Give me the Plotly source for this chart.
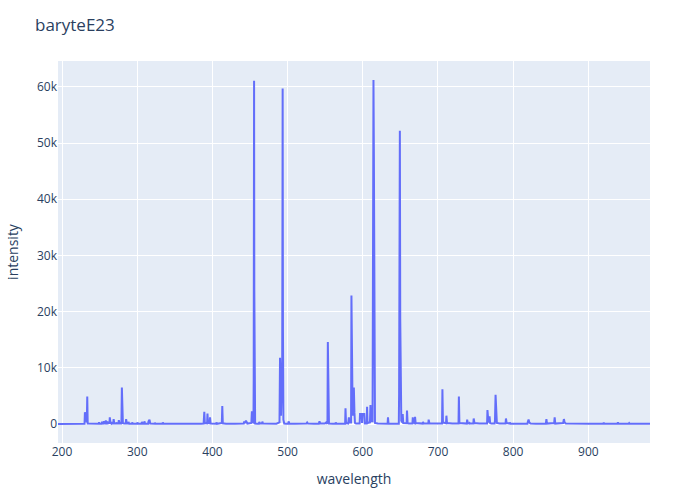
import plotly.graph_objects as go

wavelength = [
    194.6, 215.0, 229.9, 230.4, 230.9, 232.9, 233.5, 234.1, 240.0, 248.5,
    249.2, 250.0, 252.7, 253.2, 254.0, 255.1, 255.6, 256.5, 257.7, 258.2,
    259.0, 260.5, 261.0, 262.0, 263.0, 263.5, 264.4, 265.5, 266.0, 267.0,
    268.1, 268.6, 269.5, 271.7, 272.2, 273.2, 275.0, 275.5, 276.4, 278.6,
    279.0, 279.55, 280.27, 280.9, 282.5, 284.7, 285.2, 286.2, 287.8, 288.3,
    289.3, 292.8, 293.3, 294.3, 299.7, 300.2, 301.2, 305.7, 306.2, 307.2,
    309.0, 309.5, 310.5, 314.5, 315.0, 316.3, 317.3, 322.9, 323.4, 324.4,
    333.5, 334.0, 335.0, 340.0, 350.0, 370.0, 385.0, 388.3, 389.2, 389.9,
    392.9, 393.4, 394.1, 396.3, 396.8, 397.6, 401.0, 404.8, 405.3, 406.2,
    412.5, 413.1, 413.8, 418.0, 430.0, 440.0, 441.7, 442.2, 443.2, 444.6,
    445.6, 446.5, 451.8, 452.5, 453.3, 454.6, 454.9, 455.2, 455.4, 455.7,
    456.1, 456.8, 460.0, 461.8, 462.3, 463.2, 465.9, 466.4, 467.2, 472.0,
    485.0, 489.2, 489.9, 490.5, 491.2, 492.8, 493.2, 493.4, 493.8, 494.4,
    495.5, 498.0, 500.8, 501.3, 502.3, 510.0, 525.0, 526.0, 527.0, 535.0,
    541.5, 542.4, 543.4, 549.5, 551.3, 552.1, 553.0, 553.5, 554.2, 555.0,
    560.0, 563.5, 564.0, 565.0, 575.0, 576.5, 577.0, 577.7, 580.5, 581.5,
    582.4, 584.4, 584.9, 585.6, 586.5, 587.3, 588.1, 588.9, 589.6, 591.0,
    595.8, 596.3, 598.5, 599.0, 599.5, 602.0, 602.6, 605.2, 605.7, 606.3,
    609.5, 610.2, 611.0, 613.0, 613.4, 614.2, 614.7, 615.3, 616.2, 620.0,
    627.0, 633.0, 633.5, 634.2, 640.0, 647.9, 648.3, 648.6, 649.3, 649.8,
    650.3, 651.2, 652.7, 653.1, 653.8, 655.0, 658.3, 658.8, 659.6, 661.0,
    666.0, 666.5, 667.2, 669.0, 669.5, 670.3, 675.0, 679.6, 680.1, 681.0,
    687.1, 687.6, 688.6, 695.0, 700.0, 705.4, 705.9, 706.6, 710.7, 711.2,
    712.0, 717.5, 718.0, 719.0, 727.3, 727.8, 728.5, 733.0, 738.3, 738.8,
    739.7, 741.5, 742.0, 742.8, 747.0, 747.5, 748.5, 755.0, 765.3, 765.8,
    766.8, 768.1, 768.6, 769.4, 771.0, 775.3, 775.8, 776.6, 777.4, 778.3,
    782.0, 789.9, 790.4, 791.3, 795.0, 795.5, 796.3, 800.0, 815.0, 819.0,
    819.5, 820.5, 821.5, 823.0, 830.0, 843.5, 844.2, 845.0, 854.5, 855.2,
    856.0, 866.5, 867.5, 868.4, 870.0, 880.0, 900.0, 919.8, 920.5, 921.3,
    938.5, 939.3, 940.2, 953.5, 954.3, 955.2, 970.0, 982.0,
]

intensity = [
    40, 50, 60, 2100, 1900, 300, 4900, 100, 60, 60,
    300, 80, 80, 450, 120, 100, 550, 150, 100, 650,
    100, 100, 300, 100, 100, 1200, 200, 100, 400, 100,
    100, 900, 100, 100, 300, 100, 100, 700, 100, 100,
    600, 6500, 3400, 200, 100, 100, 900, 100, 100, 400,
    80, 80, 300, 80, 60, 300, 60, 60, 400, 80,
    80, 500, 80, 80, 500, 800, 100, 60, 250, 60,
    60, 300, 60, 50, 50, 40, 60, 100, 2200, 200,
    150, 1900, 200, 150, 1200, 100, 60, 60, 300, 60,
    200, 3200, 150, 60, 50, 100, 100, 500, 200, 600,
    300, 100, 200, 2300, 400, 300, 8000, 23000, 61100, 24000,
    1500, 100, 80, 80, 400, 100, 100, 450, 100, 80,
    80, 300, 11800, 9000, 1500, 11000, 40000, 59700, 17000, 800,
    100, 80, 80, 500, 100, 80, 100, 300, 100, 80,
    80, 500, 100, 100, 300, 150, 200, 14600, 1200, 100,
    80, 80, 300, 80, 80, 80, 2800, 200, 100, 1200,
    300, 300, 22900, 2000, 1500, 4000, 6500, 2000, 200, 100,
    100, 1800, 1800, 200, 1800, 1800, 100, 100, 3100, 200,
    300, 3400, 500, 500, 54000, 61200, 49000, 3000, 200, 100,
    80, 80, 1200, 100, 80, 80, 5500, 29000, 52200, 18700,
    7800, 600, 300, 1800, 200, 150, 150, 2400, 200, 100,
    100, 1200, 300, 150, 1300, 200, 100, 100, 400, 100,
    100, 800, 100, 80, 80, 100, 6200, 300, 150, 1500,
    200, 100, 200, 100, 100, 4900, 200, 100, 100, 800,
    200, 100, 200, 100, 100, 1000, 200, 100, 100, 2500,
    800, 300, 1400, 200, 100, 100, 600, 5200, 1500, 200,
    100, 100, 1000, 200, 100, 300, 100, 80, 80, 80,
    400, 800, 300, 100, 80, 100, 900, 100, 200, 1200,
    100, 200, 900, 300, 100, 60, 60, 60, 250, 60,
    80, 300, 60, 60, 200, 60, 60, 50,
]

assert len(wavelength) == len(intensity)

fig = go.Figure(
    go.Scatter(
        x=wavelength,
        y=intensity,
        mode="lines",
        line=dict(color="#636efa", width=2),
        name="baryteE23",
    )
)

fig.update_layout(
    template="plotly",
    width=700,
    height=500,
    title=dict(text="baryteE23"),
    xaxis_title="wavelength",
    yaxis_title="intensity",
    margin=dict(l=58, r=50, t=61, b=57),
    showlegend=False,
)

fig.write_html(
    "out.html",
    config={"displayModeBar": False},
    post_script="document.body.style.margin='0';",
)
